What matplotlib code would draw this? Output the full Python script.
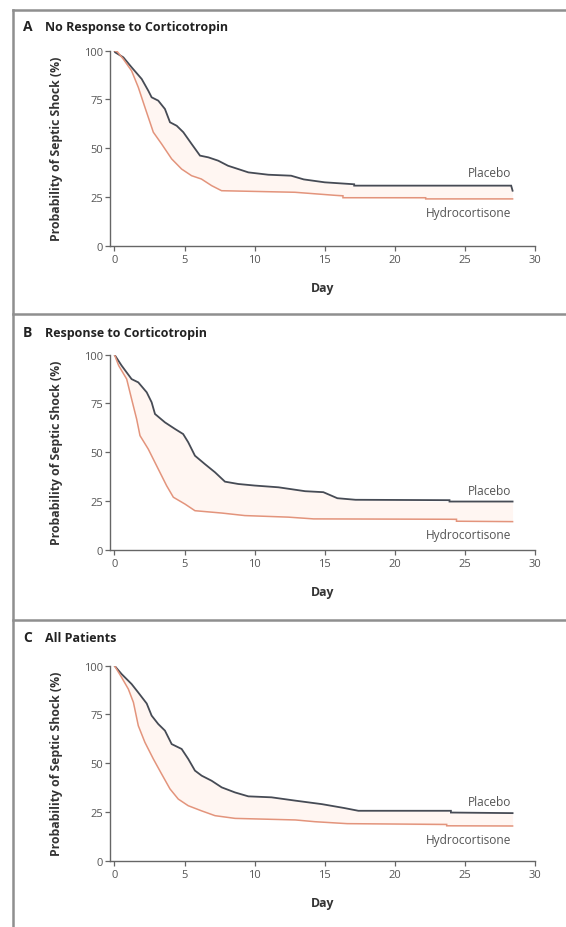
import matplotlib
matplotlib.use("Agg")
import matplotlib.pyplot as plt
import numpy as np

plt.rcParams["font.family"] = ["Open Sans", "DejaVu Sans"]

# Panel A: no response to corticotropin
a_placebo_day = [0, 0.04, 0.63, 1.22, 1.94, 2.41, 2.65, 3.12, 3.6, 3.96, 4.44, 4.91, 5.5, 6.1, 6.7, 7.4, 8.1,
                 8.83, 9.55, 10.97, 12.6, 13.5, 15.0, 17.1, 17.1, 28.3, 28.4]
a_placebo_val = [100, 99.2, 96.6, 91.5, 85.5, 79.5, 76.1, 74.4, 70.1, 63.3, 61.5, 58.2, 52.2, 46.2, 45.3, 43.6,
                 41.0, 39.3, 37.6, 36.4, 35.9, 34.0, 32.5, 31.5, 30.8, 30.8, 28.2]
a_hydro_day = [0, 0.2, 0.63, 1.22, 1.7, 2.17, 2.77, 3.36, 4.08, 4.79, 5.5, 6.2, 6.93, 7.64, 12.87, 15.8, 16.3,
               16.3, 22.2, 22.2, 28.4]
a_hydro_val = [100, 99.5, 95.7, 89.7, 81.2, 71.0, 58.2, 52.2, 44.5, 39.3, 35.9, 34.2, 30.8, 28.2, 27.4, 25.8, 25.6,
               24.6, 24.6, 24.0, 24.0]

# Panel B: response to corticotropin
b_placebo_day = [0, 0.51, 1.22, 1.7, 2.3, 2.65, 2.89, 3.6, 4.32, 4.9, 5.26, 5.74, 6.45, 7.17, 7.88, 8.83, 10.0,
                 11.7, 13.6, 14.9, 15.9, 17.2, 23.9, 23.9, 28.4]
b_placebo_val = [100, 94.4, 87.5, 85.8, 80.7, 75.6, 69.6, 65.3, 61.9, 59.3, 55.1, 48.2, 43.9, 39.7, 34.9, 33.7,
                 32.9, 32.0, 30.0, 29.5, 26.4, 25.6, 25.4, 24.7, 24.7]
b_hydro_day = [0, 0.3, 0.87, 1.22, 1.58, 1.82, 2.41, 3.12, 3.72, 4.2, 5.03, 5.74, 7.65, 9.3, 12.4, 14.2, 24.4,
               24.4, 28.4]
b_hydro_val = [100, 94.4, 87.5, 77.3, 67.0, 58.5, 51.6, 41.4, 32.8, 26.9, 23.4, 20.0, 18.8, 17.5, 16.7, 15.8,
               15.6, 14.6, 14.4]

# Panel C: all patients
c_placebo_day = [0, 0.51, 1.22, 1.68, 2.3, 2.65, 3.12, 3.6, 4.08, 4.79, 5.26, 5.74, 6.22, 6.93, 7.65, 8.6, 9.55,
                 11.2, 12.9, 14.8, 16.4, 17.4, 24.0, 24.0, 28.4]
c_placebo_val = [100, 95.7, 90.6, 86.4, 80.6, 74.4, 70.1, 66.7, 59.8, 57.3, 52.2, 46.2, 43.6, 41.0, 37.6, 35.0,
                 33.0, 32.5, 30.8, 29.0, 27.0, 25.6, 25.6, 24.7, 24.4]
c_hydro_day = [0, 0.51, 0.99, 1.35, 1.7, 2.17, 2.77, 3.36, 3.96, 4.55, 5.26, 6.2, 7.17, 8.6, 12.9, 14.3, 16.6,
               23.7, 23.7, 28.4]
c_hydro_val = [100, 94.0, 88.0, 81.2, 69.2, 60.7, 52.2, 44.5, 36.8, 31.6, 28.2, 25.6, 23.1, 21.7, 20.9, 20.0,
               19.0, 18.6, 17.9, 17.8]

panel_letters = ["A", "B", "C"]
panel_titles = ["No Response to Corticotropin", "Response to Corticotropin", "All Patients"]
curves = [
    (a_placebo_day, a_placebo_val, a_hydro_day, a_hydro_val),
    (b_placebo_day, b_placebo_val, b_hydro_day, b_hydro_val),
    (c_placebo_day, c_placebo_val, c_hydro_day, c_hydro_val),
]
# y position (data units) of the "Placebo" / "Hydrocortisone" labels
label_y = [(37.6, 17.1), (30.3, 8.0), (30.5, 11.0)]

W, H = 566, 928
PLACEBO = "#464b55"
HYDRO = "#e3947c"
FILL = "#fff6f2"
TICK = "#555555"
FRAME = "#8f8f8f"

fig = plt.figure(figsize=(W / 100, H / 100), dpi=100)
fig.patch.set_facecolor("white")


def fx(px):
    return px / W


def fy(py):
    return 1 - py / H


# outer frame and panel separators
frame_kw = dict(color=FRAME, lw=1.8, transform=fig.transFigure)
fig.add_artist(plt.Line2D([fx(12.5), fx(12.5)], [fy(11), fy(928)], **frame_kw))
for yy in (11, 315, 621):
    fig.add_artist(plt.Line2D([fx(12.5), fx(566)], [fy(yy), fy(yy)], **frame_kw))

zero_px = [246.7, 550.7, 861.7]
title_px = [27, 333, 638]
ax_left, ax_right = 110, 535

for letter, title, (pd, pv, hd, hv), (ply, hly), y0, ty in zip(
        panel_letters, panel_titles, curves, label_y, zero_px, title_px):
    ax = fig.add_axes([fx(ax_left), fy(y0), (ax_right - ax_left) / W, 195 / H])
    ax.set_xlim(-0.32, 30)
    ax.set_ylim(0, 100)

    # faint shading between the two curves
    grid = np.union1d(pd, hd)
    ax.fill_between(grid, np.interp(grid, hd, hv), np.interp(grid, pd, pv),
                    color=FILL, lw=0, zorder=1)

    ax.plot(pd, pv, color=PLACEBO, lw=1.3, zorder=3, solid_joinstyle="miter")
    ax.plot(hd, hv, color=HYDRO, lw=1.1, zorder=3, solid_joinstyle="miter")

    ax.text(28.3, ply, "Placebo", ha="right", va="center", fontsize=8.6, color="#555555")
    ax.text(28.3, hly, "Hydrocortisone", ha="right", va="center", fontsize=8.6, color="#555555")

    ax.spines["top"].set_visible(False)
    ax.spines["right"].set_visible(False)
    for s in ("left", "bottom"):
        ax.spines[s].set_color("#666666")
        ax.spines[s].set_linewidth(1.0)
    ax.set_xticks([0, 5, 10, 15, 20, 25, 30])
    ax.set_yticks([0, 25, 50, 75, 100])
    ax.tick_params(length=3.8, width=0.9, color="#666666", labelsize=8, labelcolor=TICK, pad=2.5)
    ax.tick_params(axis="y", pad=1)

    ax.set_xlabel("Day", fontsize=8.8, fontweight="bold", color="#333333")
    ax.xaxis.set_label_coords(0.5, -41.6 / 195)
    ax.xaxis.label.set_va("center")
    ax.set_ylabel("Probability of Septic Shock (%)", fontsize=8.8, fontweight="bold", color="#333333")
    ax.yaxis.set_label_coords((57 - ax_left) / (ax_right - ax_left), 0.5)
    ax.yaxis.label.set_va("center")

    fig.text(fx(23), fy(ty), letter, fontsize=10, fontweight="bold", color="#222222", va="center")
    fig.text(fx(45), fy(ty), title, fontsize=9, fontweight="bold", color="#222222", va="center")

fig.savefig("out.png", dpi=100, facecolor="white")
